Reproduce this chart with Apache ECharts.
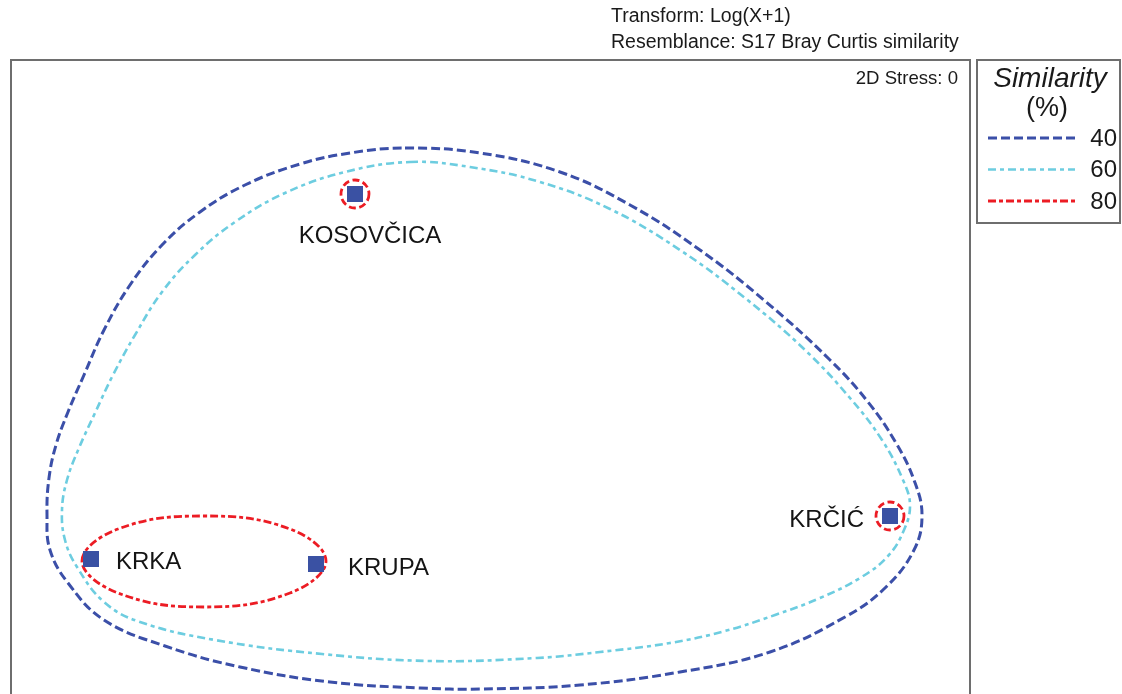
<!DOCTYPE html>
<html>
<head>
<meta charset="utf-8">
<script src="https://cdn.jsdelivr.net/npm/echarts@6/dist/echarts.min.js"></script>
<style>
html,body{margin:0;padding:0;background:#fff;}
#chart{width:1122px;height:694px;}
</style>
</head>
<body>
<div id="chart"></div>
<script>
// ---------- data (ordination coordinates) ----------
const sites = ['KOSOVČICA', 'KRKA', 'KRUPA', 'KRČIĆ'];
const siteX = [355, 91, 316, 890];
const siteY = [194, 559, 564, 516];

const similarityLevels = [40, 60, 80];

// 40 % similarity contour (all sites)
const contour40X = [405, 480, 560, 630, 700, 765, 830, 868, 896, 914, 922, 914, 885, 845, 770, 680, 580, 480, 420, 330, 240, 165, 104, 68, 50, 47, 49, 56, 68, 84, 104, 130, 162, 200, 245, 300, 350];
const contour40Y = [148, 153, 172, 205, 250, 301, 360, 402, 443, 480, 515, 550, 588, 617, 652, 672, 685, 689, 688, 682, 667, 646, 620, 583, 550, 515, 478, 445, 412, 375, 330, 285, 245, 212, 185, 164, 153];

// 60 % similarity contour (all sites)
const contour60X = [410, 470, 540, 610, 680, 745, 805, 850, 882, 903, 910, 904, 888, 860, 820, 775, 725, 670, 600, 537, 430, 322, 215, 140, 104, 77, 65, 62, 67, 79, 95, 113, 135, 162, 195, 235, 285, 345];
const contour60Y = [162, 167, 182, 209, 250, 298, 350, 398, 440, 480, 505, 530, 556, 578, 598, 615, 631, 643, 652, 658, 661, 654, 640, 622, 602, 567, 540, 510, 480, 448, 413, 375, 335, 292, 255, 222, 193, 172];

// 80 % similarity contour around KRKA + KRUPA
const contour80X = [82, 118, 204, 290, 326, 290, 204, 118];
const contour80Y = [561, 529, 516, 529, 561, 593, 607, 593];
// 80 % singleton groups (drawn as small rings round the site)
const singletons80 = ['KOSOVČICA', 'KRČIĆ'];

const titleLines = ['Transform: Log(X+1)', 'Resemblance: S17 Bray Curtis similarity'];
const stressText = '2D Stress: 0';
const legendTitle = ['Similarity', '(%)'];

// ---------- styles ----------
const FONT = '"Liberation Sans", Arial, sans-serif';
const levelStyle = {
  40: {color: '#3b4fa8', width: 3, dash: [9, 4]},
  60: {color: '#6dcde0', width: 2.6, dash: [8, 4, 4, 4]},
  80: {color: '#ec1c24', width: 2.8, dash: [8, 3, 4, 3]}
};
const labelLayout = [
  {position: 'bottom', distance: 22, offset: [15, 0]},
  {position: 'right', distance: 17, offset: [0, 3]},
  {position: 'right', distance: 24, offset: [0, 4]},
  {position: 'left', distance: 18, offset: [0, 4]}
];

const zip = (xs, ys) => xs.map((x, i) => [x, ys[i]]);

function contourSeries(name, level, xs, ys) {
  const st = levelStyle[level];
  const pts = zip(xs, ys);
  return {
    type: 'custom', name: name, coordinateSystem: 'cartesian2d', z: 2, silent: true,
    data: pts,
    encode: {x: 0, y: 1},
    renderItem: function (params, api) {
      if (params.dataIndex !== 0) return null;
      return {
        type: 'polygon',
        shape: {points: pts.map(p => api.coord(p)), smooth: 0.4},
        style: {fill: 'none', stroke: st.color, lineWidth: st.width, lineDash: st.dash}
      };
    }
  };
}

const ringData = singletons80.map(s => {
  const i = sites.indexOf(s);
  return [siteX[i], siteY[i]];
});

const chart = echarts.init(document.getElementById('chart'), null, {renderer: 'canvas'});

const legendX = 977, legendY = 60;
const graphics = [
  {type: 'polyline', shape: {points: [[11, 700], [11, 60], [970, 60], [970, 700]]},
   style: {fill: 'none', stroke: '#6e6e6e', lineWidth: 2}, z: 10},
  {type: 'text', left: 611, top: 7, style: {text: titleLines[0], font: '19.5px ' + FONT, fill: '#1a1a1a'}},
  {type: 'text', left: 611, top: 33, style: {text: titleLines[1], font: '19.5px ' + FONT, fill: '#1a1a1a'}},
  {type: 'text', right: 1122 - 958, top: 69, style: {text: stressText, font: '18.6px ' + FONT, fill: '#1a1a1a'}},
  {type: 'rect', shape: {x: legendX, y: legendY, width: 143, height: 163},
   style: {fill: '#fff', stroke: '#6e6e6e', lineWidth: 2}},
  {type: 'text', x: 1050, y: 79, style: {text: legendTitle[0], font: 'italic 28px ' + FONT, fill: '#1a1a1a', align: 'center', verticalAlign: 'middle'}},
  {type: 'text', x: 1047, y: 109, style: {text: legendTitle[1], font: '27px ' + FONT, fill: '#1a1a1a', align: 'center', verticalAlign: 'middle'}}
];
similarityLevels.forEach((lv, k) => {
  const st = levelStyle[lv];
  const y = 138 + k * 31.5;
  graphics.push({type: 'line', shape: {x1: 988, y1: y, x2: 1075, y2: y},
    style: {stroke: st.color, lineWidth: st.width, lineDash: st.dash}});
  graphics.push({type: 'text', x: 1117, y: y + 1, style: {text: String(lv), font: '24px ' + FONT, fill: '#1a1a1a', align: 'right', verticalAlign: 'middle'}});
});

chart.setOption({
  animation: false,
  backgroundColor: '#fff',
  grid: {left: 11, top: 60, width: 959, height: 634, show: false},
  xAxis: {type: 'value', min: 11, max: 970, show: false},
  yAxis: {type: 'value', min: 60, max: 694, inverse: true, show: false},
  series: [
    contourSeries('40', 40, contour40X, contour40Y),
    contourSeries('60', 60, contour60X, contour60Y),
    contourSeries('80', 80, contour80X, contour80Y),
    {
      type: 'custom', name: '80 singletons', coordinateSystem: 'cartesian2d', z: 3, silent: true,
      data: ringData, encode: {x: 0, y: 1},
      renderItem: function (params, api) {
        const c = api.coord([api.value(0), api.value(1)]);
        const st = levelStyle[80];
        return {type: 'circle', shape: {cx: c[0], cy: c[1], r: 14},
          style: {fill: 'none', stroke: st.color, lineWidth: st.width, lineDash: [7, 3.5]}};
      }
    },
    {
      type: 'scatter', name: 'sites', z: 5, silent: true,
      symbol: 'rect', symbolSize: 16,
      itemStyle: {color: '#3a51a3', opacity: 1},
      data: sites.map((s, i) => ({
        name: s, value: [siteX[i], siteY[i]],
        label: Object.assign({show: true, formatter: s, color: '#141414', fontSize: 24, fontFamily: FONT}, labelLayout[i])
      }))
    }
  ],
  graphic: graphics
});
</script>
</body>
</html>
